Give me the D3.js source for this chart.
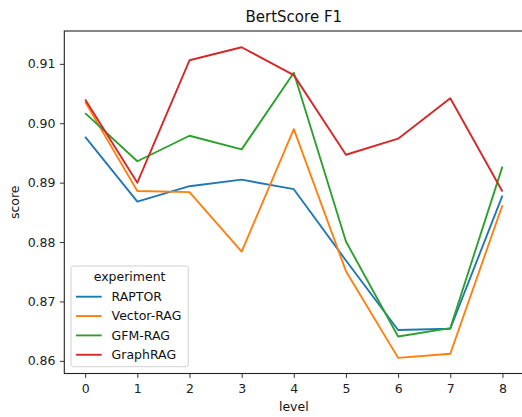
<!DOCTYPE html>
<html>
<head>
<meta charset="utf-8">
<script src="https://cdn.jsdelivr.net/npm/d3@7"></script>
<style>
  html, body { margin: 0; padding: 0; background: #fff; }
  svg { display: block; font-family: "DejaVu Sans", sans-serif; }
</style>
</head>
<body>
<script>
const levels = [0, 1, 2, 3, 4, 5, 6, 7, 8];
const seriesNames = ["RAPTOR", "Vector-RAG", "GFM-RAG", "GraphRAG"];
const raptor    = [0.8977, 0.8868, 0.8894, 0.8905, 0.8889, 0.8769, 0.8652, 0.8654, 0.8878];
const vectorRag = [0.9036, 0.8886, 0.8884, 0.8784, 0.8990, 0.8751, 0.8605, 0.8612, 0.8862];
const gfmRag    = [0.9017, 0.8936, 0.8979, 0.8956, 0.9085, 0.8801, 0.8641, 0.8655, 0.8927];
const graphRag  = [0.9040, 0.8900, 0.9106, 0.9128, 0.9081, 0.8947, 0.8974, 0.9042, 0.8885];
const yTicks = [0.86, 0.87, 0.88, 0.89, 0.90, 0.91];
const colors = ["#1f77b4", "#ff7f0e", "#2ca02c", "#d62728"];

const series = [raptor, vectorRag, gfmRag, graphRag];

const W = 522, H = 417;
const mLeft = 64.3, mRight = 523.3, mTop = 31, mBottom = 373.5;
const FS = 12.5;

const svg = d3.select("body").append("svg").attr("width", W).attr("height", H);

const x = d3.scaleLinear().domain([-0.4, 8.4]).range([mLeft, mRight]);
const y = d3.scaleLinear().domain([0.85787, 0.91553]).range([mBottom, mTop]);

// lines
const line = d3.line().x((d, i) => x(levels[i])).y(d => y(d));
series.forEach((s, k) => {
  svg.append("path").datum(s)
    .attr("fill", "none")
    .attr("stroke", colors[k])
    .attr("stroke-width", 1.875)
    .attr("stroke-linejoin", "round")
    .attr("stroke-linecap", "butt")
    .attr("d", line);
});

// axes
const xAxis = d3.axisBottom(x).tickValues(levels).tickFormat(d3.format("d")).tickSizeOuter(0).tickSize(4.4).tickPadding(6);
const yAxis = d3.axisLeft(y).tickValues(yTicks).tickFormat(d3.format(".2f")).tickSizeOuter(0).tickSize(4.4).tickPadding(4.4);

const gx = svg.append("g").attr("transform", `translate(0,${mBottom})`).call(xAxis);
const gy = svg.append("g").attr("transform", `translate(${mLeft},0)`).call(yAxis);
[gx, gy].forEach(g => {
  g.select(".domain").remove();
  g.selectAll(".tick line").attr("stroke", "#333").attr("stroke-width", 1);
  g.selectAll(".tick text").attr("fill", "#222").style("font-size", FS + "px").style("font-family", "DejaVu Sans");
});
gx.selectAll(".tick text").attr("dy", null).attr("y", 19.8);

// spines
svg.append("rect").attr("x", mLeft).attr("y", mTop).attr("width", mRight - mLeft).attr("height", mBottom - mTop)
  .attr("fill", "none").attr("stroke", "#222").attr("stroke-width", 1.1);

// title and labels
svg.append("text").attr("x", (mLeft + mRight) / 2).attr("y", 22).attr("text-anchor", "middle")
  .style("font-size", "15px").attr("fill", "#111").text("BertScore F1");
svg.append("text").attr("x", (mLeft + mRight) / 2).attr("y", 410.5).attr("text-anchor", "middle")
  .style("font-size", FS + "px").attr("fill", "#111").text("level");
svg.append("text").attr("transform", `translate(19.3,${(mTop + mBottom) / 2}) rotate(-90)`).attr("text-anchor", "middle")
  .style("font-size", FS + "px").attr("fill", "#111").text("score");

// legend
const lg = svg.append("g");
lg.append("rect").attr("x", 71).attr("y", 266).attr("width", 117.3).attr("height", 100.7)
  .attr("rx", 2.5).attr("fill", "#fff").attr("fill-opacity", 0.8).attr("stroke", "#d0d0d0").attr("stroke-width", 1);
lg.append("text").attr("x", 129.6).attr("y", 281).attr("text-anchor", "middle")
  .style("font-size", FS + "px").attr("fill", "#111").text("experiment");
seriesNames.forEach((n, k) => {
  const yy = 296.7 + k * 19.35;
  lg.append("line").attr("x1", 76).attr("x2", 101.7).attr("y1", yy).attr("y2", yy)
    .attr("stroke", colors[k]).attr("stroke-width", 1.875);
  lg.append("text").attr("x", 111.6).attr("y", yy + 4.4).style("font-size", FS + "px").attr("fill", "#111").text(n);
});
</script>
</body>
</html>
